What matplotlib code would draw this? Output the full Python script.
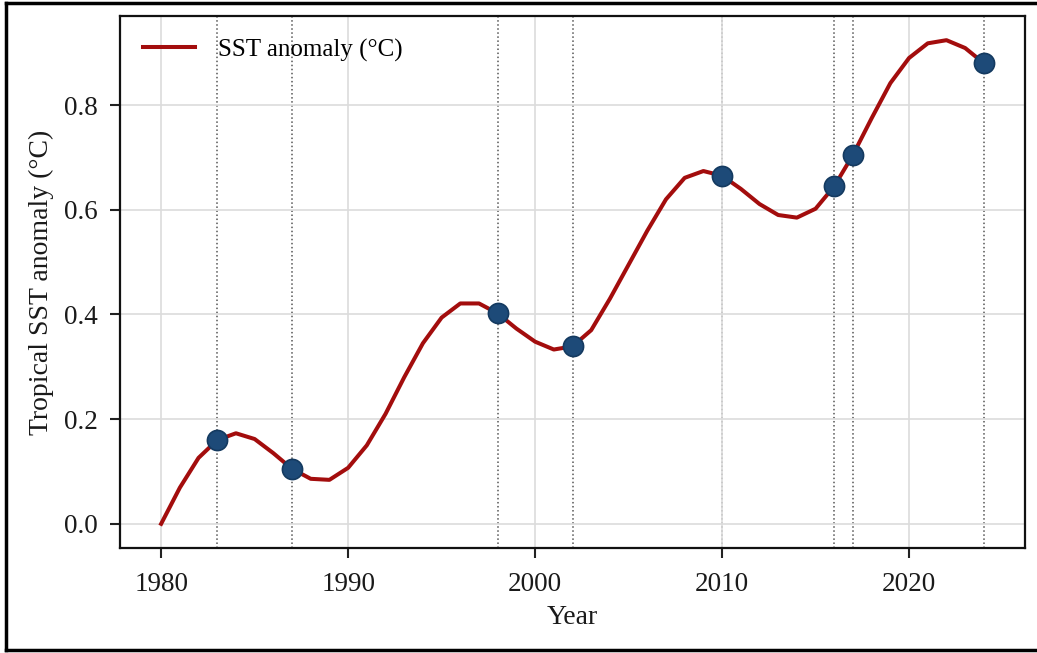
import matplotlib
matplotlib.use("Agg")
import matplotlib.pyplot as plt
from matplotlib.lines import Line2D

plt.rcParams['font.family'] = ['Liberation Serif', 'DejaVu Serif']
plt.rcParams['mathtext.fontset'] = 'stix'

years = list(range(1980, 2025))
sst_anomaly = [0.000, 0.069, 0.126, 0.160, 0.173, 0.162, 0.135, 0.105, 0.086, 0.084,
               0.107, 0.150, 0.210, 0.280, 0.345, 0.394, 0.421, 0.421, 0.402, 0.373,
               0.348, 0.333, 0.339, 0.370, 0.430, 0.495, 0.560, 0.620, 0.661, 0.674,
               0.665, 0.640, 0.611, 0.590, 0.585, 0.602, 0.645, 0.705, 0.775, 0.842,
               0.890, 0.918, 0.924, 0.909, 0.880]
event_years = [1983, 1987, 1998, 2002, 2010, 2016, 2017, 2024]

fig = plt.figure(figsize=(10.37, 6.53), dpi=100)
ax = fig.add_axes([120 / 1037, 1 - 548 / 653, 905 / 1037, 532 / 653])

ax.grid(True, color='#dcdcdc', linewidth=1.2, zorder=0)
for yr in event_years:
    ax.axvline(yr, color='#555555', linestyle=':', linewidth=1.1, zorder=1)

ax.plot(years, sst_anomaly, color='#a30d0d', linewidth=2.9, zorder=3,
        label='SST anomaly (°C)')
ev_vals = [sst_anomaly[years.index(y)] for y in event_years]
ax.plot(event_years, ev_vals, linestyle='none', marker='o', markersize=14.5,
        markerfacecolor='#1d4a78', markeredgecolor='#143a60', markeredgewidth=1.2,
        zorder=4)

ax.set_xticks([1980, 1990, 2000, 2010, 2020])
ax.set_yticks([0.0, 0.2, 0.4, 0.6, 0.8])
ax.set_yticklabels(['0.0', '0.2', '0.4', '0.6', '0.8'])
ax.tick_params(axis='both', labelsize=19.5, direction='out', length=7, width=1.5,
               color='#222222', labelcolor='#1a1a1a')
ax.tick_params(axis='x', pad=10)
ax.tick_params(axis='y', pad=9)
for s in ax.spines.values():
    s.set_linewidth(1.6)
    s.set_color('#111111')

ax.set_xlabel('Year', fontsize=20, color='#1a1a1a', labelpad=6)
ax.set_ylabel('Tropical SST anomaly (°C)', fontsize=20, color='#1a1a1a', labelpad=7)

ax.legend(loc='upper left', frameon=False, fontsize=18, handlelength=2.1,
          borderaxespad=0.5, handletextpad=0.9)

# outer frame around the figure
frame_kw = dict(color='black', linewidth=2.5, transform=fig.transFigure)
fig.add_artist(Line2D([6 / 1037, 1.01], [1 - 3 / 653, 1 - 3 / 653], **frame_kw))
fig.add_artist(Line2D([6 / 1037, 1.01], [1 - 650 / 653, 1 - 650 / 653], **frame_kw))
fig.add_artist(Line2D([6 / 1037, 6 / 1037], [1 - 650 / 653, 1 - 3 / 653], **frame_kw))

fig.savefig('out.png', dpi=100)
